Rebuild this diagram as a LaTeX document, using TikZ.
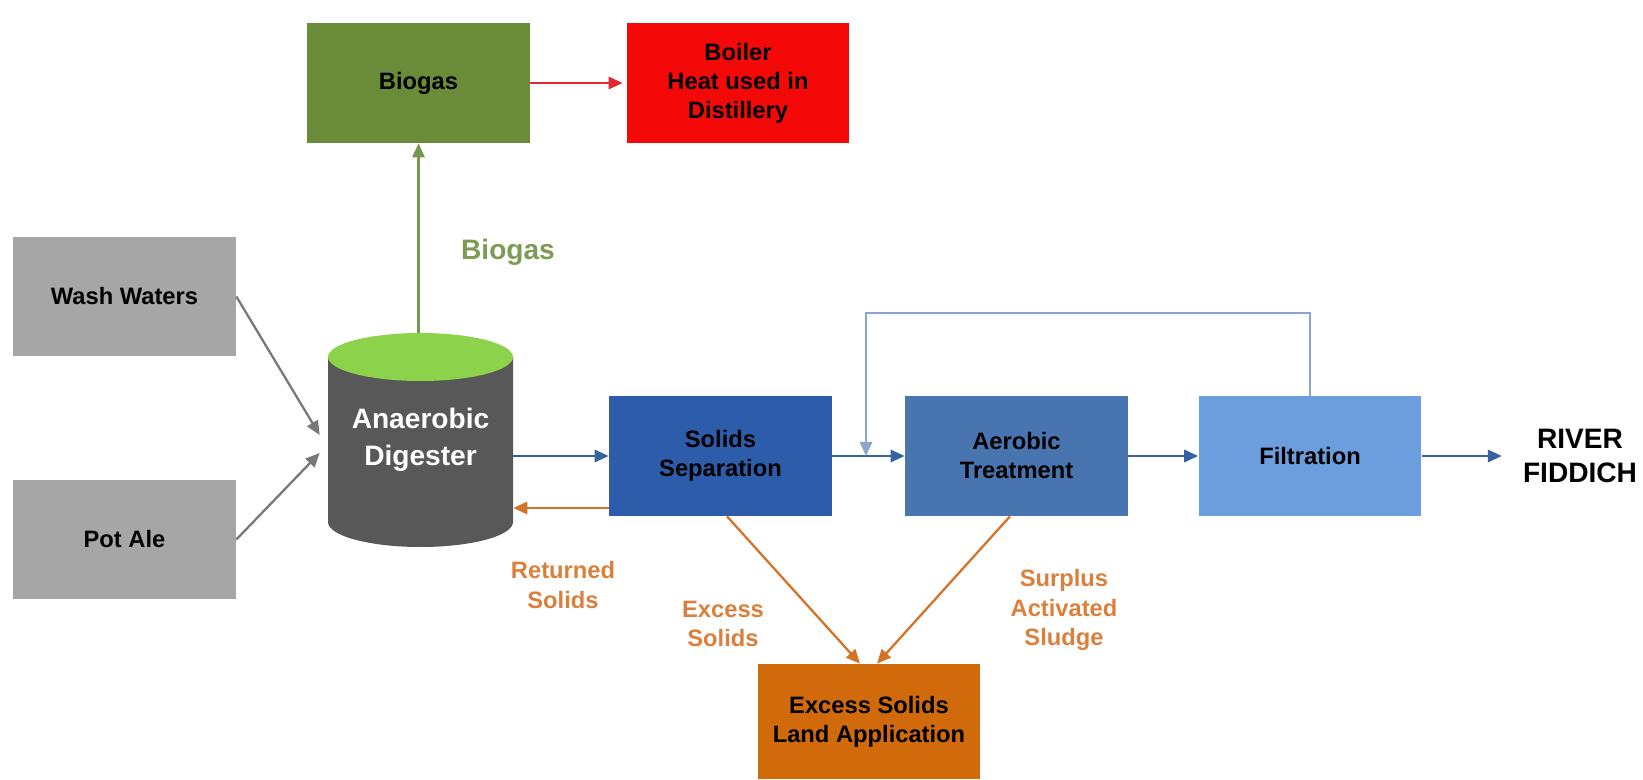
\documentclass[tikz,border=0pt]{standalone}
\usepackage{fontspec}
\setmainfont{Liberation Sans}
\usetikzlibrary{arrows.meta}
\definecolor{gasgreen}{RGB}{106,139,56}
\definecolor{gasline}{RGB}{120,150,80}
\definecolor{gaslabel}{RGB}{125,155,85}
\definecolor{boilerred}{RGB}{245,8,8}
\definecolor{redline}{RGB}{228,40,50}
\definecolor{feedgray}{RGB}{166,166,166}
\definecolor{arrowgray}{RGB}{120,120,120}
\definecolor{tankgray}{RGB}{88,88,88}
\definecolor{tanktop}{RGB}{140,210,75}
\definecolor{sepblue}{RGB}{44,92,170}
\definecolor{aerblue}{RGB}{72,116,176}
\definecolor{filtblue}{RGB}{108,157,220}
\definecolor{lineblue}{RGB}{55,98,160}
\definecolor{loopblue}{RGB}{140,165,205}
\definecolor{landorange}{RGB}{208,106,10}
\definecolor{lineorange}{RGB}{212,115,40}
\definecolor{lblorange}{RGB}{218,128,60}
\begin{document}
\begin{tikzpicture}[x=0.02cm, y=0.02cm,
    box/.style={shape=rectangle, inner sep=0, minimum width=4.46cm, minimum height=2.4cm, align=center, font=\fontsize{13.5}{16.5}\selectfont\bfseries},
    flow/.style={line width=1.3pt, -{Triangle[length=8pt,width=7pt]}},
    lbl/.style={align=center, text=lblorange, font=\fontsize{13.5}{17}\selectfont\bfseries}]
    \useasboundingbox (0,0) rectangle (1643,779);
    \node[box, fill=gasgreen] (gas) at (418.5,696) {Biogas};
    \node[box, fill=boilerred] (boiler) at (738,696) {Boiler\\Heat used in\\Distillery};
    \node[box, fill=feedgray] (wash) at (124.5,482.5) {Wash Waters};
    \node[box, fill=feedgray] (ale) at (124.5,239.5) {Pot Ale};
    \fill[tankgray] (328,422) -- (328,257) arc[start angle=180, end angle=360, x radius=92.5, y radius=25] -- (513,422) -- cycle;
    \fill[tanktop] (420.5,422) ellipse[x radius=92.5, y radius=24];
    \node[inner sep=0, minimum width=3.7cm, minimum height=4.28cm, align=center, text=white, font=\fontsize{16}{21}\selectfont\bfseries] (dig) at (420.5,339) {Anaerobic\\Digester};
    \node[box, fill=sepblue] (sep) at (720.5,323) {Solids\\Separation};
    \node[box, fill=aerblue] (aer) at (1016.5,323) {Aerobic\\Treatment};
    \node[box, fill=filtblue] (filt) at (1310,323) {Filtration};
    \node[box, fill=landorange, minimum height=2.3cm] (land) at (869,57.5) {Excess Solids\\Land Application};
    \node[align=center, font=\fontsize{16}{19}\selectfont\bfseries] (river) at (1580,323) {RIVER\\FIDDICH};
    \node[text=gaslabel, font=\fontsize{16}{19}\selectfont\bfseries] (gaslbl) at (508,527) {Biogas};
    \node[lbl] (retlbl) at (563,194) {Returned\\Solids};
    \node[lbl] (exlbl) at (723,155) {Excess\\Solids};
    \node[lbl] (surlbl) at (1064,169) {Surplus\\Activated\\Sludge};
    \coordinate (merge) at (866,323);
    \draw[flow, gasline] (gas.south |- dig.north) -- (gas.south);
    \draw[flow, redline, shorten >=2pt] (gas.east) -- (boiler.west);
    \draw[flow, arrowgray] (wash.east) -- ([xshift=-0.16cm,yshift=0.1cm]dig.west);
    \draw[flow, arrowgray] (ale.east) -- ([xshift=-0.16cm,yshift=-0.26cm]dig.west);
    \draw[flow, lineblue] (dig.east |- sep.west) -- (sep.west);
    \draw[flow, lineorange] ([yshift=-1.04cm]sep.west) -- ([yshift=-1.04cm]sep.west -| dig.east);
    \draw[flow, lineblue] (sep.east) -- (aer.west);
    \draw[flow, lineblue] (aer.east) -- (filt.west);
    \draw[flow, lineblue, shorten >=0.3cm] (filt.east) -- (river.west);
    \draw[flow, loopblue] (filt.north) -- ++(0,83) -| (merge);
    \draw[flow, lineorange] ([xshift=0.13cm]sep.south) -- ([xshift=-0.18cm]land.north);
    \draw[flow, lineorange] ([xshift=-0.13cm]aer.south) -- ([xshift=0.16cm]land.north);
\end{tikzpicture}
\end{document}
